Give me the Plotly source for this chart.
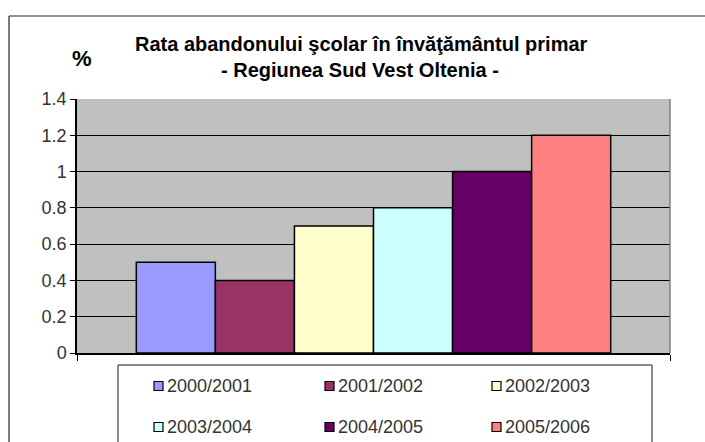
import plotly.graph_objects as go

# ---- data ----
series = ["2000/2001", "2001/2002", "2002/2003", "2003/2004", "2004/2005", "2005/2006"]
values = [0.5, 0.4, 0.7, 0.8, 1.0, 1.2]
colors = ["#9999FF", "#993366", "#FFFFCC", "#CCFFFF", "#660066", "#FF8080"]
y_ticks = [0, 0.2, 0.4, 0.6, 0.8, 1, 1.2, 1.4]
y_tick_text = ["0", "0.2", "0.4", "0.6", "0.8", "1", "1.2", "1.4"]
title_line1 = "Rata abandonului şcolar în învăţământul primar"
title_line2 = "- Regiunea Sud Vest Oltenia -"
unit_label = "%"

W, H = 705, 442
L, R, T, B = 77, 35, 99, 89
PW, PH = W - L - R, H - T - B

def px(x):
    return (x - L) / PW

def py(y):
    return (H - B - y) / PH

FONT = "Liberation Sans, Arial, sans-serif"

fig = go.Figure()
for name, v, c in zip(series, values, colors):
    fig.add_trace(go.Bar(
        x=[0], y=[v], name=name,
        marker=dict(color=c, line=dict(color="#000000", width=1.5)),
        showlegend=False,
    ))

shapes = []
annotations = []

# outer chart border (top and left edges visible)
shapes.append(dict(type="line", xref="paper", yref="paper",
                   x0=px(9), x1=px(705), y0=py(16), y1=py(16),
                   line=dict(color="#222222", width=1.2)))
shapes.append(dict(type="line", xref="paper", yref="paper",
                   x0=px(9), x1=px(9), y0=py(16), y1=py(442),
                   line=dict(color="#222222", width=1.2)))
# right plot edge
shapes.append(dict(type="line", xref="paper", yref="paper",
                   x0=1, x1=1, y0=0, y1=1, line=dict(color="#808080", width=1.5)))

# custom legend box (bottom runs off the picture)
shapes.append(dict(type="line", xref="paper", yref="paper",
                   x0=px(118), x1=px(652), y0=py(365), y1=py(365),
                   line=dict(color="#666666", width=1.5)))
shapes.append(dict(type="line", xref="paper", yref="paper",
                   x0=px(118), x1=px(118), y0=py(365), y1=py(442),
                   line=dict(color="#666666", width=1.5)))
shapes.append(dict(type="line", xref="paper", yref="paper",
                   x0=px(652), x1=px(652), y0=py(365), y1=py(442),
                   line=dict(color="#666666", width=1.5)))
col_x = [154, 325, 492]
row_y = [386, 427]
for i, (name, c) in enumerate(zip(series, colors)):
    cx = col_x[i % 3]
    cy = row_y[i // 3]
    shapes.append(dict(type="rect", xref="paper", yref="paper",
                       x0=px(cx), x1=px(cx + 9), y0=py(cy - 4.5), y1=py(cy + 4.5),
                       fillcolor=c, line=dict(color="#000000", width=1.2)))
    annotations.append(dict(xref="paper", yref="paper", x=px(cx + 11), y=py(cy),
                            text=name, showarrow=False, xanchor="left", yanchor="middle",
                            font=dict(family=FONT, size=18, color="#333333")))

# titles
annotations.append(dict(xref="paper", yref="paper", x=px(361), y=py(44), text="<b>" + title_line1 + "</b>",
                        showarrow=False, xanchor="center", yanchor="middle",
                        font=dict(family=FONT, size=20, color="#000000")))
annotations.append(dict(xref="paper", yref="paper", x=px(360), y=py(70), text="<b>" + title_line2 + "</b>",
                        showarrow=False, xanchor="center", yanchor="middle",
                        font=dict(family=FONT, size=20, color="#000000")))
annotations.append(dict(xref="paper", yref="paper", x=px(82), y=py(58), text="<b>" + unit_label + "</b>",
                        showarrow=False, xanchor="center", yanchor="middle",
                        font=dict(family=FONT, size=22, color="#000000")))

fig.update_layout(
    width=W, height=H,
    margin=dict(l=L, r=R, t=T, b=B, pad=0),
    paper_bgcolor="#FFFFFF", plot_bgcolor="#C0C0C0",
    barmode="group", bargap=0.2, bargroupgap=0,
    shapes=shapes, annotations=annotations,
    showlegend=False,
    xaxis=dict(type="linear", range=[-0.5, 0.5], tickvals=[-0.5, 0.5], ticktext=["", ""],
               ticks="outside", ticklen=6, tickcolor="#000000", tickwidth=1.2,
               showgrid=False, zeroline=False, showline=True, linecolor="#000000", linewidth=1.5,
               fixedrange=True),
    yaxis=dict(range=[0, 1.4], tickvals=y_ticks, ticktext=y_tick_text,
               ticks="outside", ticklen=5, tickcolor="#000000", tickwidth=1.2,
               showgrid=True, gridcolor="#000000", gridwidth=1.2, zeroline=False,
               showline=True, linecolor="#000000", linewidth=1.5,
               tickfont=dict(family=FONT, size=18, color="#333333"),
               fixedrange=True),
)

fig.write_html("out.html",
               config={"displayModeBar": False},
               post_script="document.documentElement.style.overflow='hidden';"
                           "document.body.style.margin='0';document.body.style.overflow='hidden';")
